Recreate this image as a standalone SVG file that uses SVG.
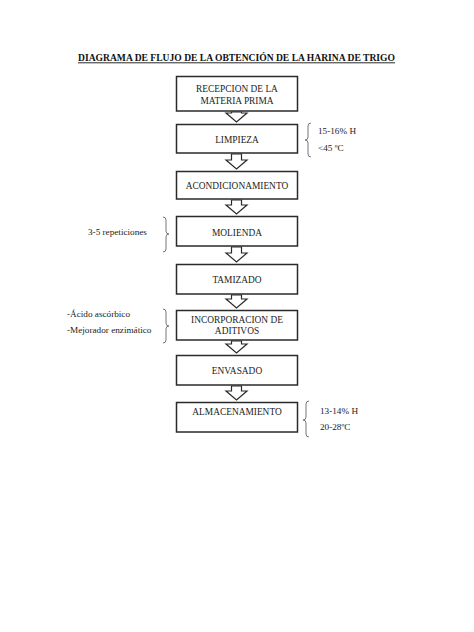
<svg xmlns="http://www.w3.org/2000/svg" width="474" height="632" viewBox="0 0 474 632">
<style>
.box{fill:#fff;stroke:#2a2a2a;stroke-width:1.5}
.bt{font-family:"Liberation Serif","Times New Roman",serif;font-size:9.4px;fill:#222;text-anchor:middle}
.st{font-family:"Liberation Serif","Times New Roman",serif;font-size:9.2px;fill:#222}
.arr{fill:#fff;stroke:#2a2a2a;stroke-width:1.2;stroke-linejoin:miter}
.br{fill:none;stroke:#777;stroke-width:1}
</style>
<rect width="474" height="632" fill="#fff"/>
<g id="title">
<text x="236.5" y="61" font-family="'Liberation Serif','Times New Roman',serif" font-size="10" font-weight="bold" fill="#111" text-anchor="middle" textLength="317" lengthAdjust="spacingAndGlyphs">DIAGRAMA DE FLUJO DE LA OBTENCIÓN DE LA HARINA DE TRIGO</text>
<line x1="78" y1="62.8" x2="395" y2="62.8" stroke="#111" stroke-width="0.9"/>
</g>
<g id="n1"><rect class="box" x="176.5" y="76.5" width="121" height="34.5"/><text class="bt" x="237" y="92">RECEPCION DE LA</text><text class="bt" x="237" y="104">MATERIA PRIMA</text></g>
<g id="n2"><rect class="box" x="176.5" y="124.5" width="121" height="28.5"/><text class="bt" x="237" y="143">LIMPIEZA</text></g>
<g id="n3"><rect class="box" x="176.5" y="171.5" width="121" height="27.5"/><text class="bt" x="237" y="189">ACONDICIONAMIENTO</text></g>
<g id="n4"><rect class="box" x="176.5" y="216.5" width="121" height="29.5"/><text class="bt" x="237" y="235.5">MOLIENDA</text></g>
<g id="n5"><rect class="box" x="176.5" y="264.5" width="121" height="29.5"/><text class="bt" x="237" y="282.5">TAMIZADO</text></g>
<g id="n6"><rect class="box" x="176.5" y="310.5" width="121" height="29.5"/><text class="bt" x="237" y="323">INCORPORACION DE</text><text class="bt" x="237" y="333.5">ADITIVOS</text></g>
<g id="n7"><rect class="box" x="176.5" y="355.5" width="121" height="29.5"/><text class="bt" x="237" y="373.5">ENVASADO</text></g>
<g id="n8"><rect class="box" x="176.5" y="402.5" width="121" height="29.5"/><text class="bt" x="237" y="414.5">ALMACENAMIENTO</text></g>
<g id="connectors">
<path class="arr" d="M231.5,112 H241.5 V113 H247 L236.5,122 L226,113 H231.5 Z"/>
<path class="arr" d="M231.5,154 H241.5 V160 H247 L236.5,169 L226,160 H231.5 Z"/>
<path class="arr" d="M231.5,200 H241.5 V205 H247 L236.5,214 L226,205 H231.5 Z"/>
<path class="arr" d="M231.5,247 H241.5 V253 H247 L236.5,262 L226,253 H231.5 Z"/>
<path class="arr" d="M231.5,295 H241.5 V299 H247 L236.5,308 L226,299 H231.5 Z"/>
<path class="arr" d="M231.5,341 H241.5 V344 H247 L236.5,353 L226,344 H231.5 Z"/>
<path class="arr" d="M231.5,386 H241.5 V391 H247 L236.5,400 L226,391 H231.5 Z"/>
</g>
<g id="note-limpieza">
<path class="br" d="M311,123 Q308,123 308,126 V137 Q308,140 305,140 Q308,140 308,143 V154 Q308,157 311,157"/>
<text class="st" x="318" y="133.5">15-16% H</text>
<text class="st" x="318" y="151">&lt;45 ºC</text>
</g>
<g id="note-molienda">
<path class="br" d="M163,217 Q166,217 166,220 V231 Q166,234 169,234 Q166,234 166,237 V249 Q166,252 163,252"/>
<text class="st" x="88" y="235">3-5 repeticiones</text>
</g>
<g id="note-aditivos">
<path class="br" d="M163,309 Q166,309 166,312 V323 Q166,326 169,326 Q166,326 166,329 V340 Q166,343 163,343"/>
<text class="st" x="67" y="317">-Ácido ascórbico</text>
<text class="st" x="67" y="333">-Mejorador enzimático</text>
</g>
<g id="note-almacenamiento">
<path class="br" d="M309,401 Q306,401 306,404 V417 Q306,420 303,420 Q306,420 306,423 V434 Q306,437 309,437"/>
<text class="st" x="320" y="414">13-14% H</text>
<text class="st" x="320" y="430">20-28ºC</text>
</g>
</svg>
